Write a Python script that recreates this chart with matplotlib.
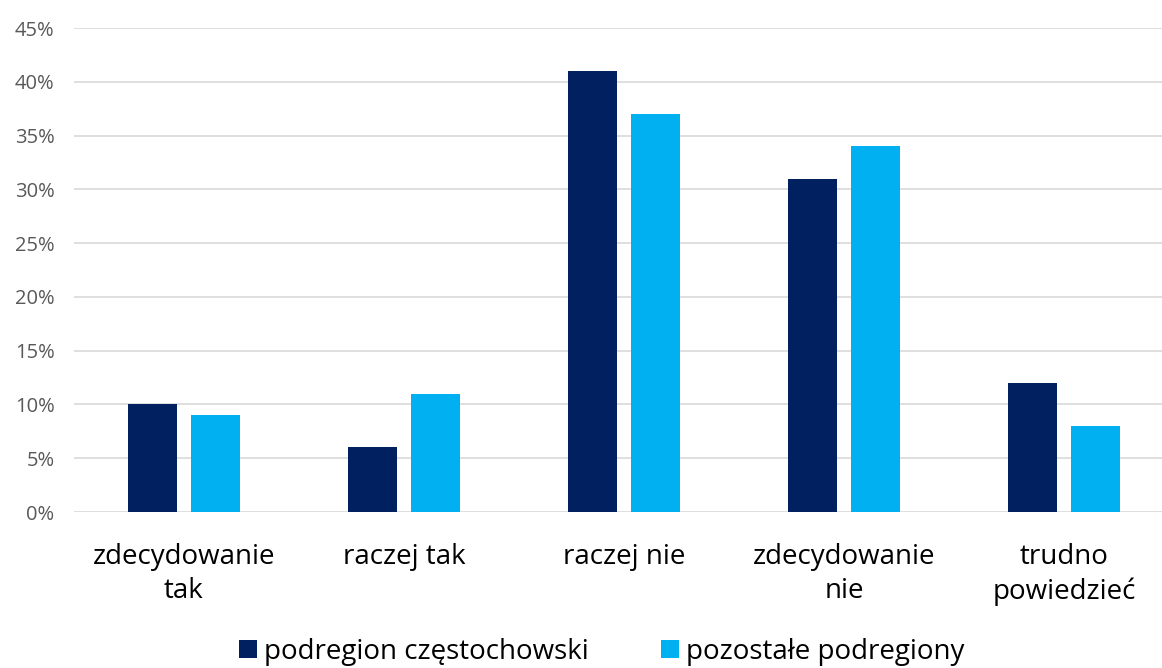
import matplotlib.pyplot as plt
import numpy as np

# ===== Data =====
CATEGORIES = ['zdecydowanie\ntak', 'raczej tak', 'raczej nie', 'zdecydowanie\nnie', 'trudno\npowiedzieć']
SERIES_NAMES = ['podregion częstochowski', 'pozostałe podregiony']
CZESTOCHOWA = [10, 6, 41, 31, 12]
POZOSTALE = [9, 11, 37, 34, 8]
Y_TICKS = [0, 5, 10, 15, 20, 25, 30, 35, 40, 45]

DARK = '#002060'
LIGHT = '#00B0F0'

plt.rcParams['font.family'] = ['Open Sans', 'DejaVu Sans']

fig = plt.figure(figsize=(11.62, 6.68), dpi=100)
ax = fig.add_axes([74 / 1162, 156 / 668, 1100 / 1162, 484 / 668])

x = np.arange(len(CATEGORIES))
width = 0.224
offset = 0.143
ax.bar(x - offset, CZESTOCHOWA, width, color=DARK, label=SERIES_NAMES[0], zorder=3)
ax.bar(x + offset, POZOSTALE, width, color=LIGHT, label=SERIES_NAMES[1], zorder=3)

ax.set_xlim(-0.5, len(CATEGORIES) - 0.5)
ax.set_ylim(0, 45)
ax.set_yticks(Y_TICKS)
ax.set_yticklabels([f'{v}%' for v in Y_TICKS], fontsize=14.5, color='#595959')
ax.set_xticks(x)
ax.set_xticklabels(CATEGORIES, fontsize=20, color='#000000', linespacing=1.3)
ax.tick_params(axis='both', length=0)
ax.tick_params(axis='x', pad=22)
ax.tick_params(axis='y', pad=14)

ax.grid(axis='y', color='#D9D9D9', linewidth=1.2, zorder=0)
for s in ax.spines.values():
    s.set_visible(False)

fig.legend(loc='lower center', bbox_to_anchor=(0.518, -0.034), ncol=2, frameon=False,
           fontsize=20, handlelength=0.65, handleheight=0.65, handletextpad=0.25,
           columnspacing=2.6)

fig.savefig('out.png', dpi=100)
